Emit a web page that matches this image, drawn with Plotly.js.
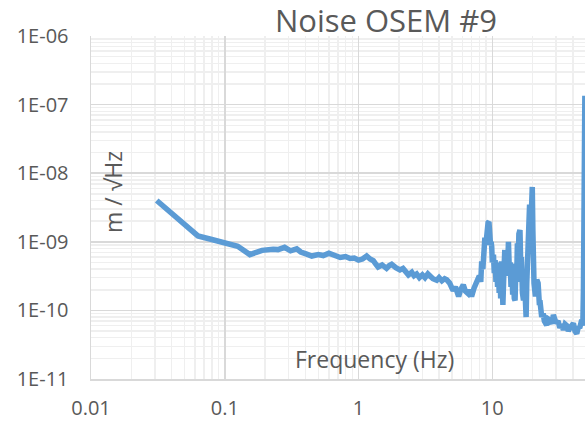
<!DOCTYPE html>
<html>
<head>
<meta charset="utf-8">
<script src="https://cdn.plot.ly/plotly-3.0.1.min.js"></script>
<style>html,body{margin:0;padding:0;background:#fff;}#chart{width:585px;height:425px;}</style>
</head>
<body>
<div id="chart"></div>
<script>
const chartTitle = "Noise OSEM #9";
const xTitle = "Frequency (Hz)";
const yTitle = "m / \u221AHz";

const xTickVals = [0.01, 0.1, 1, 10];
const xTickText = ["0.01", "0.1", "1", "10"];
const yTickVals = [1e-11, 1e-10, 1e-9, 1e-8, 1e-7, 1e-6];
const yTickText = ["1E-11", "1E-10", "1E-09", "1E-08", "1E-07", "1E-06"];

const freq = [
  0.031, 0.063, 0.08, 0.1, 0.125, 0.154, 0.19, 0.23, 0.25, 0.28, 0.31, 0.345, 0.37, 0.41, 0.447,
  0.5, 0.545, 0.6, 0.65, 0.73, 0.8, 0.865, 0.93, 1.0, 1.07, 1.15, 1.22, 1.29, 1.35, 1.4,
  1.5, 1.62, 1.7, 1.77, 1.9, 2.04, 2.15, 2.25, 2.36, 2.5, 2.6, 2.72, 2.85, 3.0, 3.14,
  3.3, 3.42, 3.6, 3.84, 4.0, 4.2, 4.4, 4.56, 4.8, 5.0, 5.1, 5.3, 5.5, 5.6, 5.8,
  6.07, 6.3, 6.6, 6.8, 7.0, 7.3, 7.65, 8.0, 8.2, 8.33, 8.5, 8.6, 8.7, 8.8, 8.95,
  9.1, 9.2, 9.3, 9.44, 9.55, 9.6, 9.7, 9.8, 9.9, 10.0, 10.2, 10.35, 10.5, 10.65, 10.8,
  10.95, 11.1, 11.25, 11.4, 11.55, 11.7, 11.85, 12.0, 12.2, 12.4, 12.6, 12.8, 13.0, 13.2, 13.4,
  13.6, 13.8, 14.0, 14.2, 14.4, 14.6, 14.8, 15.0, 15.2, 15.4, 15.6, 15.8, 16.1, 16.3, 16.5,
  16.8, 17.1, 17.3, 17.5, 17.7, 17.9, 18.1, 18.3, 18.6, 19.0, 19.3, 19.6, 19.9, 20.1, 20.3,
  20.5, 21.0, 21.5, 22.0, 22.5, 22.7, 23.4, 24.0, 24.5, 25.5, 26.2, 27.0, 28.0, 28.6, 30.0,
  31.0, 32.0, 33.0, 34.0, 35.0, 36.0, 37.0, 38.0, 39.0, 40.4, 41.5, 42.8, 44.0, 45.0, 46.6,
  47.5, 48.0, 48.4, 48.8, 49.2
];
const asd = [
  4.0e-9, 1.22e-9, 1.08e-9, 9.6e-10, 8.6e-10, 6.5e-10, 7.5e-10, 7.8e-10, 7.7e-10, 8.3e-10, 7.4e-10, 7.9e-10, 7.1e-10, 6.6e-10, 6.2e-10,
  6.5e-10, 6.3e-10, 6.8e-10, 6.4e-10, 5.9e-10, 6.1e-10, 5.7e-10, 5.8e-10, 5.4e-10, 5.6e-10, 6.2e-10, 5.6e-10, 5.3e-10, 4.7e-10, 4.3e-10,
  4.6e-10, 4.1e-10, 4.5e-10, 4.7e-10, 4.2e-10, 3.9e-10, 4.1e-10, 3.6e-10, 3.3e-10, 3.6e-10, 3.2e-10, 3.4e-10, 3.0e-10, 3.3e-10, 3.0e-10,
  3.4e-10, 3.1e-10, 2.9e-10, 2.75e-10, 3.0e-10, 2.7e-10, 2.9e-10, 2.8e-10, 2.5e-10, 2.1e-10, 1.95e-10, 2.2e-10, 1.65e-10, 1.6e-10, 2.0e-10,
  2.35e-10, 1.9e-10, 1.75e-10, 2.0e-10, 1.6e-10, 2.1e-10, 2.5e-10, 3.2e-10, 2.6e-10, 5.2e-10, 4.0e-10, 8.0e-10, 6.0e-10, 1.15e-9, 9.0e-10,
  1.5e-9, 1.1e-9, 1.9e-9, 1.95e-9, 1.3e-9, 1.7e-9, 9.0e-10, 1.0e-9, 8.5e-10, 5.0e-10, 6.5e-10, 3.5e-10, 5.4e-10, 2.6e-10, 4.8e-10,
  2.2e-10, 5.0e-10, 1.8e-10, 4.5e-10, 1.5e-10, 5.2e-10, 1.3e-10, 1.2e-10, 3.5e-10, 7.6e-10, 3.2e-10, 6.0e-10, 3.5e-10, 1.0e-9, 4.0e-10,
  5.0e-10, 2.2e-10, 4.8e-10, 1.7e-10, 3.0e-10, 1.5e-10, 1.4e-10, 4.0e-10, 2.6e-10, 9.5e-10, 3.5e-10, 1.3e-9, 1.48e-9, 5.0e-10, 6.0e-10,
  1.8e-10, 1.4e-10, 3.8e-10, 1.0e-10, 3.0e-10, 8.0e-11, 2.5e-10, 5.0e-10, 2.9e-9, 3.5e-9, 1.2e-9, 5.5e-9, 6.3e-9, 1.5e-9, 3.0e-10,
  2.5e-10, 1.6e-10, 2.8e-10, 2.5e-10, 1.2e-10, 1.4e-10, 8.0e-11, 9.0e-11, 7.0e-11, 6.1e-11, 7.5e-11, 7.2e-11, 6.4e-11, 8.6e-11, 6.5e-11,
  7.0e-11, 5.6e-11, 6.2e-11, 5.2e-11, 6.3e-11, 6.0e-11, 5.0e-11, 5.5e-11, 6.2e-11, 6.5e-11, 5.0e-11, 4.6e-11, 5.8e-11, 5.5e-11, 7.3e-11,
  6.0e-11, 2.0e-10, 1.5e-9, 1.35e-7, 1.35e-7
];

const gridMajor = "#d9d9d9";
const gridMinor = "#efefef";
const textColor = "#595959";
const font = "'Open Sans', 'Noto Sans', sans-serif";

const trace = {
  x: freq,
  y: asd,
  type: "scatter",
  mode: "lines",
  line: {color: "#5b9bd5", width: 5.5},
  showlegend: false,
  hoverinfo: "x+y"
};

const layout = {
  width: 585,
  height: 425,
  margin: {l: 91, r: 0, t: 36, b: 46},
  paper_bgcolor: "#ffffff",
  plot_bgcolor: "#ffffff",
  font: {family: font, color: textColor, size: 20},
  title: {
    text: chartTitle,
    font: {family: font, size: 31, color: textColor},
    x: 386 / 585, xref: "container", xanchor: "center",
    y: 1 - 21.5 / 425, yref: "container", yanchor: "middle"
  },
  showlegend: false,
  xaxis: {
    type: "log",
    range: [-2, 1.693],
    tickmode: "array",
    tickvals: xTickVals,
    ticktext: xTickText,
    ticks: "",
    ticklabelstandoff: 10,
    tickfont: {family: font, size: 20, color: textColor},
    showgrid: true,
    gridcolor: gridMajor,
    gridwidth: 1.5,
    minor: {tickmode: "array", tickvals: [0.02,0.03,0.04,0.05,0.06,0.07,0.08,0.09,0.2,0.3,0.4,0.5,0.6,0.7,0.8,0.9,2,3,4,5,6,7,8,9,20,30,40], showgrid: true, gridcolor: gridMinor, gridwidth: 1.5, ticks: ""},
    showline: true,
    linecolor: gridMajor,
    linewidth: 1.5,
    zeroline: false,
    mirror: false
  },
  yaxis: {
    type: "log",
    range: [-11, -6],
    tickmode: "array",
    tickvals: yTickVals,
    ticktext: yTickText,
    ticks: "",
    ticklabelstandoff: 17,
    tickfont: {family: font, size: 20, color: textColor},
    showgrid: true,
    gridcolor: gridMajor,
    gridwidth: 1.5,
    minor: {tickmode: "array", tickvals: [
      2e-11,3e-11,4e-11,5e-11,6e-11,7e-11,8e-11,9e-11,
      2e-10,3e-10,4e-10,5e-10,6e-10,7e-10,8e-10,9e-10,
      2e-9,3e-9,4e-9,5e-9,6e-9,7e-9,8e-9,9e-9,
      2e-8,3e-8,4e-8,5e-8,6e-8,7e-8,8e-8,9e-8,
      2e-7,3e-7,4e-7,5e-7,6e-7,7e-7,8e-7,9e-7], showgrid: true, gridcolor: gridMinor, gridwidth: 1.5, ticks: ""},
    showline: true,
    linecolor: gridMajor,
    linewidth: 1.5,
    zeroline: false
  },
  annotations: [
    {text: xTitle, xref: "paper", yref: "paper", x: (374 - 91) / 494, y: (379 - 359) / 343,
     xanchor: "center", yanchor: "middle", showarrow: false,
     font: {family: font, size: 23, color: textColor}},
    {text: yTitle, xref: "paper", yref: "paper", x: (113 - 91) / 494, y: (379 - 192) / 343,
     xanchor: "center", yanchor: "middle", textangle: -90, showarrow: false,
     font: {family: font, size: 23, color: textColor}}
  ]
};

Plotly.newPlot("chart", [trace], layout, {displayModeBar: false, staticPlot: true});
</script>
</body>
</html>
